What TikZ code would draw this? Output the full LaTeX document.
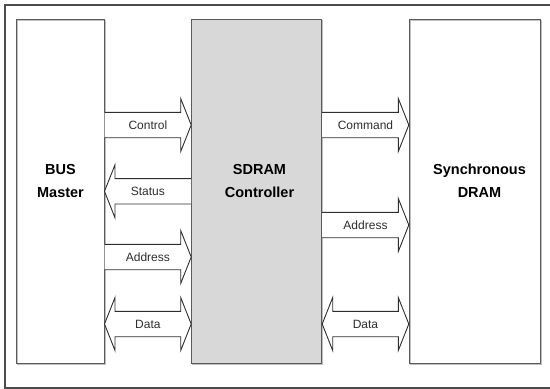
\documentclass[tikz,border=0pt]{standalone}
\usepackage{fontspec}
\setmainfont{Liberation Sans}
\usetikzlibrary{calc}

\definecolor{busink}{HTML}{2E2E2E}
\definecolor{boxink}{HTML}{5A5A5A}
\definecolor{ctlfill}{HTML}{D8D8D8}

\tikzset{
  unit/.style={draw=boxink, line width=1pt, minimum height=344pt, inner sep=0pt,
    preaction={draw=black!25, line width=1pt, transform canvas={shift={(1pt,-1pt)}}}},
  title/.style={align=center, anchor=base, font=\fontsize{14.5}{22.5}\selectfont\bfseries},
  busline/.style={draw=busink, line width=0.9pt, fill=white, line join=miter},
  buslabel/.style={font=\fontsize{12}{14}\selectfont, text=busink, inner sep=1pt},
}

% block arrows between two named nodes at pixel height #3
% head length 10.5, body half height 12.7, head half height 26.5
\newcommand\busright[5]{%
  \path[busline] ($(#1.east|-0,#3)+(0,-12.7)$) -- ($(#2.west|-0,#3)+(-10.5,-12.7)$)
    -- ($(#2.west|-0,#3)+(-10.5,-26.5)$) -- (#2.west|-0,#3)
    -- ($(#2.west|-0,#3)+(-10.5,26.5)$) -- ($(#2.west|-0,#3)+(-10.5,12.7)$)
    -- ($(#1.east|-0,#3)+(0,12.7)$);
  \node[buslabel] (#5) at ($(#1.east|-0,#3)!0.5!(#2.west|-0,#3)$) {#4};}
\newcommand\busleft[5]{%
  \path[busline] ($(#2.west|-0,#3)+(0,-12.7)$) -- ($(#1.east|-0,#3)+(10.5,-12.7)$)
    -- ($(#1.east|-0,#3)+(10.5,-26.5)$) -- (#1.east|-0,#3)
    -- ($(#1.east|-0,#3)+(10.5,26.5)$) -- ($(#1.east|-0,#3)+(10.5,12.7)$)
    -- ($(#2.west|-0,#3)+(0,12.7)$);
  \node[buslabel] (#5) at ($(#1.east|-0,#3)!0.5!(#2.west|-0,#3)$) {#4};}
\newcommand\busboth[5]{%
  \path[busline] ($(#1.east|-0,#3)+(10.5,-12.7)$) -- ($(#2.west|-0,#3)+(-10.5,-12.7)$)
    -- ($(#2.west|-0,#3)+(-10.5,-26.5)$) -- (#2.west|-0,#3)
    -- ($(#2.west|-0,#3)+(-10.5,26.5)$) -- ($(#2.west|-0,#3)+(-10.5,12.7)$)
    -- ($(#1.east|-0,#3)+(10.5,12.7)$) -- ($(#1.east|-0,#3)+(10.5,26.5)$)
    -- (#1.east|-0,#3) -- ($(#1.east|-0,#3)+(10.5,-26.5)$) -- cycle;
  \node[buslabel] (#5) at ($(#1.east|-0,#3)!0.5!(#2.west|-0,#3)$) {#4};}

\begin{document}
\begin{tikzpicture}[x=1pt, y=-1pt]
  \useasboundingbox (0,0) rectangle (550,389);
  \begin{scope}
    \clip (0,0) rectangle (550,389);
    \draw[draw=black!70, line width=1.1pt] (5,5) rectangle (556,388);
  \end{scope}

  % the three units
  \node[unit, minimum width=87.3pt] (bm) at (60.35,191) {};
  \node[unit, minimum width=130pt, fill=ctlfill] (ctl) at (256.7,191) {};
  \node[unit, minimum width=131.4pt] (dram) at (475,191) {};

  % titles, anchored on the baseline of their second line
  \node[title] (bmt) at (60.5,197) {BUS\\Master};
  \node[title] (ctlt) at (259.5,197) {SDRAM\\Controller};
  \node[title] (dramt) at (479.5,197) {Synchronous\\DRAM};

  % bus master side
  \busright{bm}{ctl}{125}{Control}{lcontrol}
  \busleft{bm}{ctl}{191.3}{Status}{lstatus}
  \busright{bm}{ctl}{257}{Address}{laddress}
  \busboth{bm}{ctl}{324}{Data}{ldata}

  % memory side
  \busright{ctl}{dram}{125}{Command}{rcommand}
  \busright{ctl}{dram}{225}{Address}{raddress}
  \busboth{ctl}{dram}{324}{Data}{rdata}
\end{tikzpicture}
\end{document}
